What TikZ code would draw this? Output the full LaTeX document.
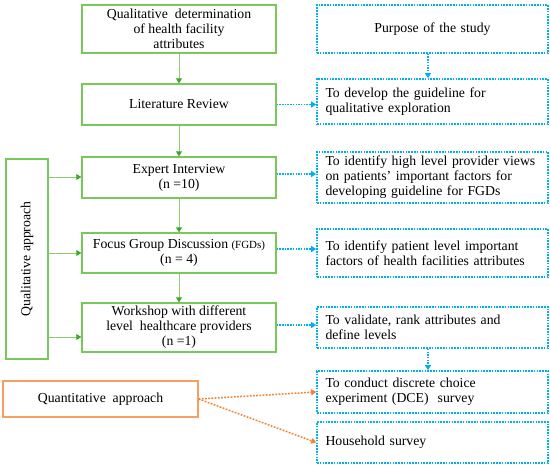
\documentclass[tikz,border=0pt]{standalone}
\usepackage{fontspec}
\setmainfont{Liberation Serif}
\usetikzlibrary{arrows.meta}
\definecolor{gborder}{RGB}{122,200,92}
\definecolor{gline}{RGB}{140,205,110}
\definecolor{gtip}{RGB}{60,170,40}
\definecolor{cy}{RGB}{0,176,240}
\definecolor{orb}{RGB}{246,160,100}
\definecolor{orl}{RGB}{242,130,50}
\tikzset{
  txt/.style={font=\fontsize{13.8}{15}\selectfont},
  gbox/.style={txt,draw=gborder,line width=1.3bp,minimum width=194bp,align=center,inner sep=2bp},
  cbox/.style={txt,draw=cy,line width=1.6bp,dash pattern=on 1.6bp off 1.2bp,minimum width=231bp,text width=214bp,align=left,inner sep=0bp},
  garr/.style={draw=gline,line width=0.9bp,-{Triangle[length=5bp,width=6bp,color=gtip]}},
  carr/.style={draw=cy,line width=1.5bp,dash pattern=on 1.5bp off 1.2bp,-{Triangle[length=5bp,width=6bp]}},
  oarr/.style={draw=orl,line width=1.5bp,dash pattern=on 1.8bp off 1.4bp,-{Triangle[length=5bp,width=6bp]}},
}
\begin{document}
\begin{tikzpicture}[x=1bp,y=-1bp]
\useasboundingbox (0,0) rectangle (550,468);
% green column
\node[gbox,minimum height=48bp] (g1) at (179,29) {Qualitative\ \ determination\\of health facility\\attributes};
\node[gbox,minimum height=41bp] (g2) at (179,104.5) {Literature Review};
\node[gbox,minimum height=41bp] (g3) at (179,177.5) {Expert Interview\\(n =10)};
\node[gbox,minimum height=40bp] (g4) at (179,253) {Focus Group Discussion {\fontsize{11}{15}\selectfont(FGDs)}\\(n = 4)};
\node[gbox,minimum height=49bp] (g5) at (179,327.5) {Workshop with different\\level\ \ healthcare providers\\(n =1)};
% approaches
\node[draw=gborder,line width=1.3bp,minimum width=42bp,minimum height=200bp] (qual) at (27,259) {};
\node[txt,rotate=90] (qualt) at (qual.center) {Qualitative approach};
\node[txt,draw=orb,line width=1.3bp,minimum width=195bp,minimum height=36bp] (quant) at (100.5,399) {Quantitative\ \ approach};
% cyan column
\node[cbox,minimum height=48bp,align=center] (c1) at (432.5,29) {Purpose of the study};
\node[cbox,minimum height=45bp] (c2) at (432.5,101.5) {To develop the guideline for\\qualitative exploration};
\node[cbox,minimum height=51bp] (c3) at (432.5,177.5) {To identify high level provider views\\on patients' important factors for\\developing guideline for FGDs};
\node[cbox,minimum height=48bp] (c4) at (432.5,253) {To identify patient level important\\factors of health facilities attributes};
\node[cbox,minimum height=41bp] (c5) at (432.5,327.5) {To validate, rank attributes and\\define levels};
\node[cbox,minimum height=42bp] (c6) at (432.5,392) {To conduct discrete choice\\experiment (DCE)\ \ survey};
\node[cbox,minimum height=41bp] (c7) at (432.5,442.5) {Household survey};
% green arrows
\draw[garr] (g1) -- (g2);
\draw[garr] (g2) -- (g3);
\draw[garr] (g3) -- (g4);
\draw[garr] (g4) -- (g5);
\draw[garr] (qual.east |- 0,177) -- (g3.west |- 0,177);
\draw[garr] (qual.east |- 0,253) -- (g4.west |- 0,253);
\draw[garr] (qual.east |- 0,337) -- (g5.west |- 0,337);
% cyan arrows
\draw[carr] ([xshift=-4.5bp]c1.south) -- ([xshift=-4.5bp]c2.north);
\draw[carr] ([xshift=-4.5bp]c5.south) -- ([xshift=-4.5bp]c6.north);
\draw[carr] (g2.east) -- (c2.west |- g2.east);
\draw[carr] (g3.east |- 0,174) -- (c3.west |- 0,174);
\draw[carr] (g4.east |- 0,249) -- (c4.west |- 0,249);
\draw[carr] (g5.east |- 0,325) -- (c5.west |- 0,325);
% orange arrows
\draw[oarr] (quant.east) -- (c6.west);
\draw[oarr] (quant.east) -- (c7.west);
\end{tikzpicture}
\end{document}
